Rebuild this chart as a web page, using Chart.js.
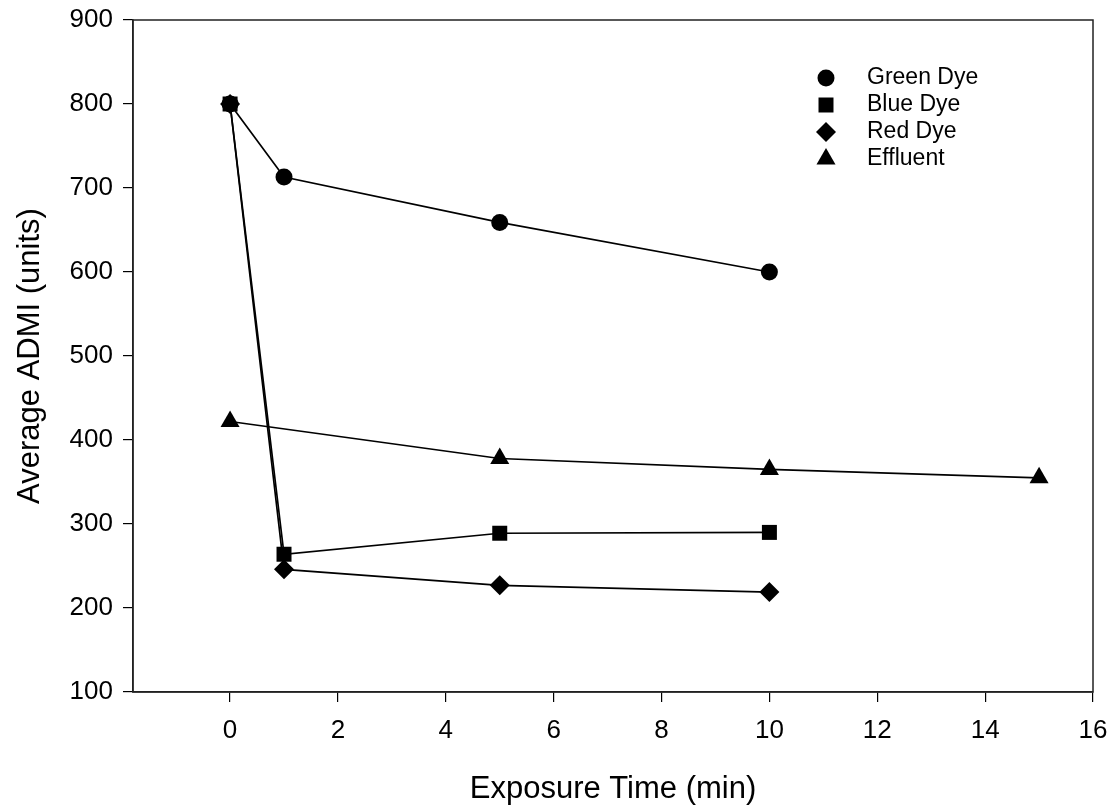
<!DOCTYPE html>
<html>
<head>
<meta charset="utf-8">
<script src="https://cdn.jsdelivr.net/npm/chart.js@4/dist/chart.umd.min.js"></script>
<style>
  html, body { margin: 0; padding: 0; background: #fff; }
  #wrap { width: 1115px; height: 809px; }
</style>
</head>
<body>
<div id="wrap"><canvas id="admiChart" width="1115" height="809"></canvas></div>
<script>
// data
const seriesNames = ['Green Dye', 'Blue Dye', 'Red Dye', 'Effluent'];
const greenTimes = [0, 1, 5, 10];
const greenValues = [800, 713, 659, 600];
const blueTimes = [0, 1, 5, 10];
const blueValues = [800, 264, 289, 290];
const redTimes = [0, 1, 5, 10];
const redValues = [800, 246, 227, 219];
const effluentTimes = [0, 5, 10, 15];
const effluentValues = [422, 378, 365, 355];
const xTickValues = [0, 2, 4, 6, 8, 10, 12, 14, 16];

const FONT = '"Liberation Sans", Arial, sans-serif';

function toPoints(xs, ys) {
    return xs.map((x, i) => ({ x: x, y: ys[i] }));
}

function makeSet(label, xs, ys, style, radius) {
    return {
        label: label,
        data: toPoints(xs, ys),
        borderColor: '#000',
        backgroundColor: '#000',
        borderWidth: 1.7,
        pointStyle: style,
        pointRadius: radius,
        pointBorderWidth: 0,
        pointBackgroundColor: '#000',
        fill: false,
        tension: 0
    };
}

const datasets = [
    makeSet(seriesNames[0], greenTimes, greenValues, 'circle', 8.5),
    makeSet(seriesNames[1], blueTimes, blueValues, 'rect', 10.6),
    makeSet(seriesNames[2], redTimes, redValues, 'rectRot', 10),
    makeSet(seriesNames[3], effluentTimes, effluentValues, 'triangle', 11)
];

// box around the plot area
const framePlugin = {
    id: 'frame',
    afterDraw(chart) {
        const a = chart.chartArea;
        const ctx = chart.ctx;
        ctx.save();
        ctx.strokeStyle = '#222';
        ctx.lineWidth = 1.5;
        ctx.strokeRect(a.left, a.top, a.right - a.left, a.bottom - a.top);
        ctx.restore();
    }
};

// legend inside the plot, top right
const insideLegend = {
    id: 'insideLegend',
    afterDraw(chart) {
        const ctx = chart.ctx;
        const symX = 826, textX = 867, firstY = 78, rowGap = 27;
        ctx.save();
        ctx.font = '23px ' + FONT;
        ctx.textBaseline = 'middle';
        ctx.textAlign = 'left';
        chart.data.datasets.forEach((ds, i) => {
            const y = firstY + i * rowGap;
            ctx.fillStyle = '#000';
            ctx.strokeStyle = '#000';
            Chart.helpers.drawPoint(ctx, {
                pointStyle: ds.pointStyle,
                radius: ds.pointRadius,
                borderWidth: 0,
                rotation: 0
            }, symX, y);
            ctx.fillStyle = '#000';
            ctx.fillText(ds.label, textX, y);
        });
        ctx.restore();
    }
};

const ctx = document.getElementById('admiChart').getContext('2d');
const admiChart = new Chart(ctx, {
    type: 'line',
    data: { datasets: datasets },
    options: {
        responsive: false,
        animation: false,
        devicePixelRatio: 1,
        layout: { padding: { top: 20, right: 22, left: 0, bottom: 0 } },
        plugins: {
            legend: { display: false },
            tooltip: { enabled: false }
        },
        scales: {
            x: {
                type: 'linear',
                min: -1.8,
                max: 16,
                afterBuildTicks(scale) {
                    scale.ticks = xTickValues.map(v => ({ value: v }));
                },
                afterFit(scale) {
                    scale.height = 117;
                    scale.paddingLeft = 0;
                    scale.paddingRight = 0;
                },
                grid: {
                    drawOnChartArea: false,
                    drawTicks: true,
                    tickLength: 10,
                    color: '#000',
                    lineWidth: 1.2
                },
                border: { display: true, color: '#222', width: 1.5 },
                ticks: {
                    color: '#000',
                    padding: 13,
                    maxRotation: 0,
                    font: { family: FONT, size: 26 }
                },
                title: {
                    display: true,
                    text: 'Exposure Time (min)',
                    color: '#000',
                    font: { family: FONT, size: 31 },
                    padding: { top: 0, bottom: 1 }
                }
            },
            y: {
                type: 'linear',
                min: 100,
                max: 900,
                afterFit(scale) {
                    scale.width = 133;
                    scale.paddingTop = 0;
                    scale.paddingBottom = 0;
                },
                grid: {
                    drawOnChartArea: false,
                    drawTicks: true,
                    tickLength: 10,
                    color: '#000',
                    lineWidth: 1.2
                },
                border: { display: true, color: '#222', width: 1.5 },
                ticks: {
                    stepSize: 100,
                    color: '#000',
                    padding: 10,
                    font: { family: FONT, size: 26 }
                },
                title: {
                    display: true,
                    text: 'Average ADMI (units)',
                    color: '#000',
                    font: { family: FONT, size: 31 },
                    padding: { top: 12, bottom: 0 }
                }
            }
        }
    },
    plugins: [framePlugin, insideLegend]
});
</script>
</body>
</html>
